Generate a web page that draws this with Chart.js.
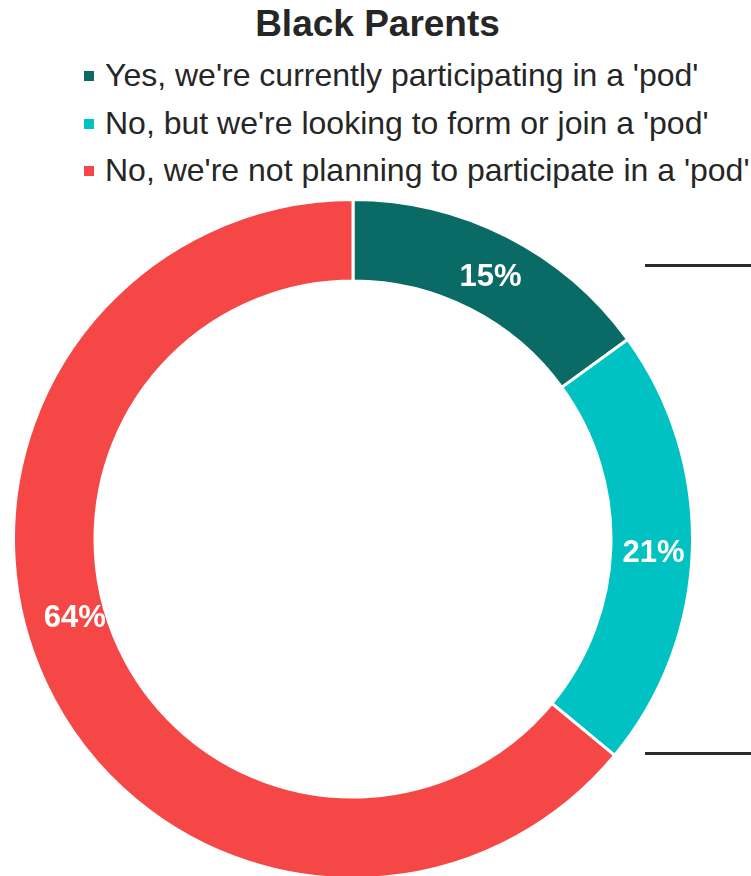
<!DOCTYPE html>
<html>
<head>
<meta charset="utf-8">
<script src="https://cdn.jsdelivr.net/npm/chart.js@4.4.0/dist/chart.umd.min.js"></script>
<style>
  html, body { margin: 0; padding: 0; width: 751px; height: 876px; overflow: hidden; background: #fff; }
  body { position: relative; font-family: "Liberation Sans", Arial, sans-serif; color: #262626; }
  #title { position: absolute; left: 0; top: 0; width: 755px; text-align: center; font-weight: bold; font-size: 37px; line-height: 48px; }
  #legend { position: absolute; left: 84px; top: 52px; margin: 0; padding: 0; list-style: none; white-space: nowrap; }
  #legend li { font-size: 32px; line-height: 47.5px; height: 47.5px; }
  #legend span.box { display: inline-block; width: 10px; height: 10px; margin-right: 11px; vertical-align: 5px; }
  #wrap { position: absolute; left: 12px; top: 198px; width: 682px; height: 682px; }
  .bracket { position: absolute; left: 645px; width: 106px; height: 3px; background: #2b2b2b; }
</style>
</head>
<body>
<div id="title">Black Parents</div>
<ul id="legend"></ul>
<div id="wrap"><canvas id="chart1"></canvas></div>
<div class="bracket" style="top:264px"></div>
<div class="bracket" style="top:752px"></div>
<script>
const categories = [
  "Yes, we're currently participating in a 'pod'",
  "No, but we're looking to form or join a 'pod'",
  "No, we're not planning to participate in a 'pod'"
];
const shares = [15, 21, 64];
const colors = ['#0A6B66', '#00C2C3', '#F54745'];
// where along each slice the label sits (0.5 = middle), and how deep into the ring
const labelAlong = [0.5, 0.5, 0.545];
const labelDepth = [0.5, 0.5, 0.39];

document.addEventListener("DOMContentLoaded", function() {
  const legend = document.getElementById('legend');
  categories.forEach((name, i) => {
    const li = document.createElement('li');
    const box = document.createElement('span');
    box.className = 'box';
    box.style.background = colors[i];
    li.appendChild(box);
    li.appendChild(document.createTextNode(name));
    legend.appendChild(li);
  });

  createChart('chart1');
});

const sliceLabels = {
  id: 'sliceLabels',
  afterDatasetsDraw(chart) {
    const ctx = chart.ctx;
    const arcs = chart.getDatasetMeta(0).data;
    ctx.save();
    ctx.font = 'bold 31px "Liberation Sans", Arial, sans-serif';
    ctx.fillStyle = '#ffffff';
    ctx.textAlign = 'center';
    ctx.textBaseline = 'middle';
    arcs.forEach((arc, i) => {
      const p = arc.getProps(['x', 'y', 'startAngle', 'endAngle', 'innerRadius', 'outerRadius'], true);
      const a = p.startAngle + (p.endAngle - p.startAngle) * labelAlong[i];
      const r = p.innerRadius + (p.outerRadius - p.innerRadius) * labelDepth[i];
      ctx.fillText(shares[i] + '%', p.x + Math.cos(a) * r + 2, p.y + Math.sin(a) * r + 5);
    });
    ctx.restore();
  }
};

function createChart(chartId) {
  const ctx = document.getElementById(chartId);
  new Chart(ctx, {
    type: 'doughnut',
    data: {
      labels: categories,
      datasets: [{
        data: shares,
        backgroundColor: colors,
        borderColor: '#ffffff',
        borderWidth: 3
      }]
    },
    options: {
      responsive: true,
      maintainAspectRatio: false,
      animation: false,
      cutout: '76%',
      layout: { padding: 0 },
      plugins: {
        legend: { display: false },
        tooltip: { enabled: false }
      }
    },
    plugins: [sliceLabels]
  });
}
</script>
</body>
</html>
